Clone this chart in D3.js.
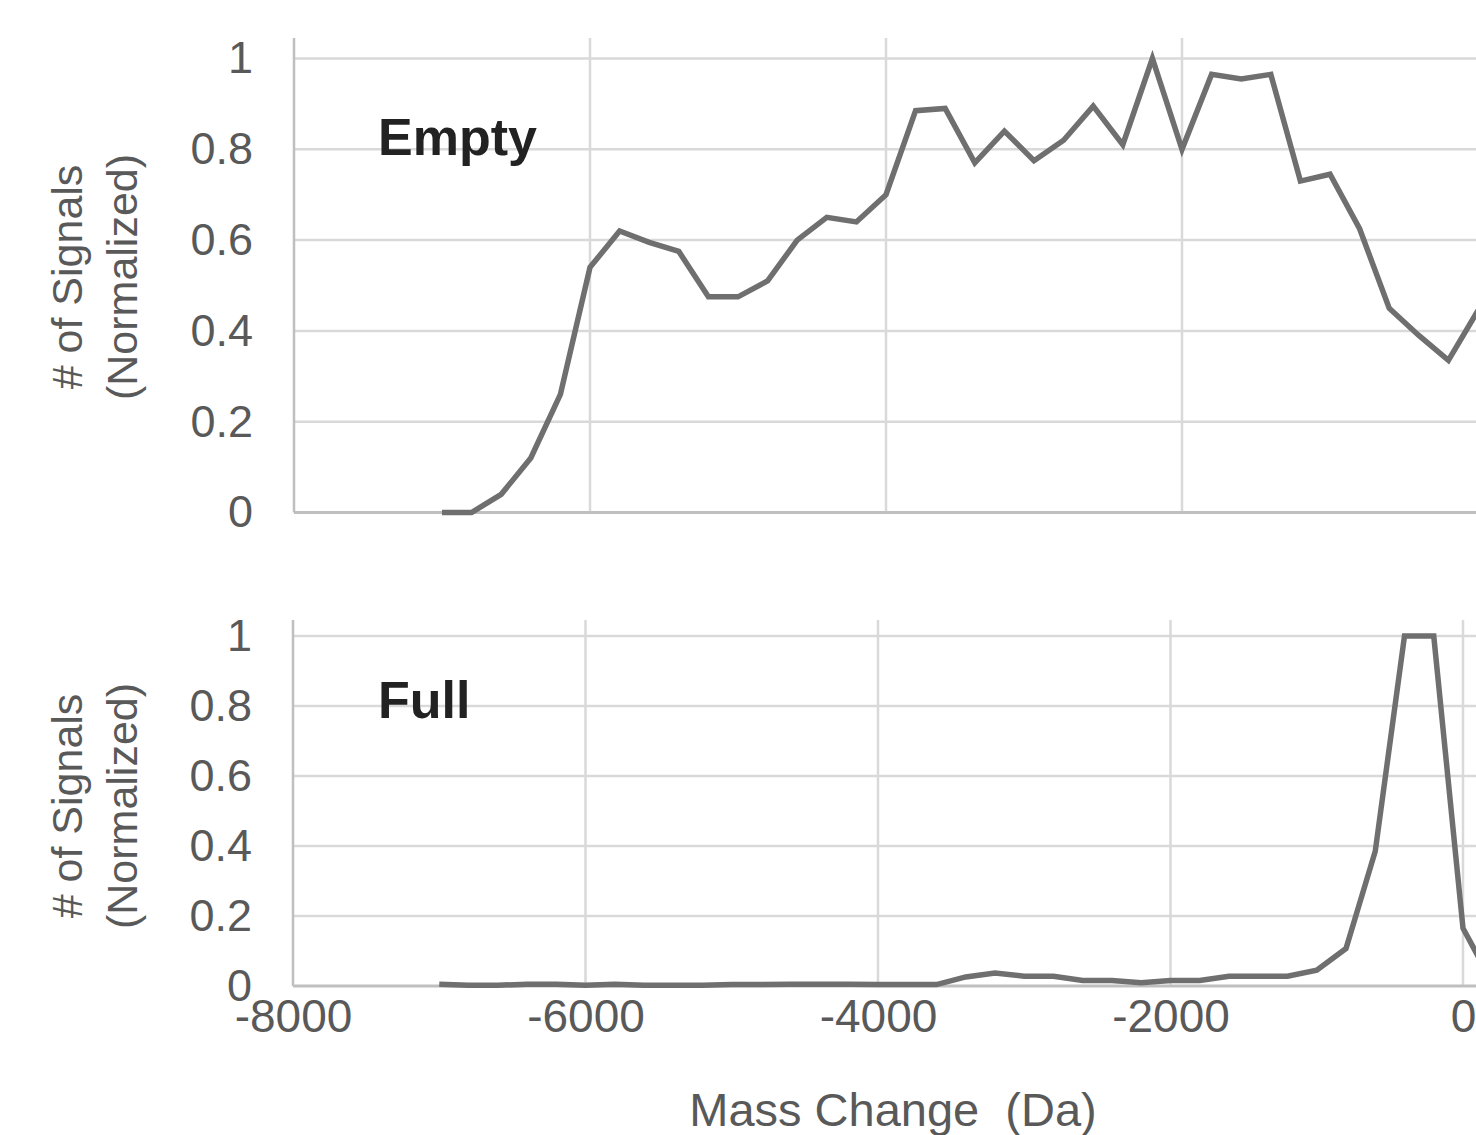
<!DOCTYPE html>
<html>
<head>
<meta charset="utf-8">
<script src="https://cdn.jsdelivr.net/npm/d3@7"></script>
<style>
  body { margin: 0; background: #fff; }
  text { font-family: "Liberation Sans", Arial, sans-serif; }
</style>
</head>
<body>
<div id="chart"></div>
<script>
// mass change bins (Da)
const massChange = [-7000, -6800, -6600, -6400, -6200, -6000, -5800, -5600, -5400, -5200,
  -5000, -4800, -4600, -4400, -4200, -4000, -3800, -3600, -3400, -3200,
  -3000, -2800, -2600, -2400, -2200, -2000, -1800, -1600, -1400, -1200,
  -1000, -800, -600, -400, -200, 0, 200];

// normalized signal counts
const emptySignal = [0, 0, 0.04, 0.12, 0.26, 0.54, 0.62, 0.595, 0.575, 0.475,
  0.475, 0.51, 0.6, 0.65, 0.64, 0.7, 0.885, 0.89, 0.77, 0.84,
  0.775, 0.82, 0.895, 0.81, 1.0, 0.8, 0.965, 0.955, 0.965, 0.73,
  0.745, 0.625, 0.45, 0.39, 0.335, 0.445];

const fullSignal = [0.005, 0.002, 0.002, 0.005, 0.005, 0.002, 0.005, 0.002, 0.002, 0.002,
  0.004, 0.004, 0.005, 0.005, 0.005, 0.004, 0.004, 0.004, 0.026, 0.037,
  0.028, 0.028, 0.016, 0.016, 0.009, 0.016, 0.016, 0.028, 0.028, 0.028,
  0.045, 0.107, 0.385, 1.0, 1.0, 0.165, 0.01];

const xTicks = [-8000, -6000, -4000, -2000, 0];
const yTicks = [0, 0.2, 0.4, 0.6, 0.8, 1];
const yTitle = ["# of Signals", "(Normalized)"];

let width = 1476;
let height = 1135;

const textColor = "#595959";
const gridColor = "#d9d9d9";
const axisColor = "#bfbfbf";
const lineColor = "#6f6f6f";

var svg = d3.select("#chart")
    .append("svg")
    .attr("width", width)
    .attr("height", height);

function panel(values, opts) {
    const x = d3.scaleLinear().domain([-8000, 0]).range([opts.left, opts.right]);
    const y = d3.scaleLinear().domain([0, 1]).range([opts.bottom, opts.top]);
    const g = svg.append("g");

    // horizontal grid
    g.selectAll(".hgrid")
        .data(yTicks.filter(d => d > 0))
        .join("line")
        .attr("x1", opts.left).attr("x2", width)
        .attr("y1", d => y(d)).attr("y2", d => y(d))
        .attr("stroke", gridColor)
        .attr("stroke-width", 2.5);

    // vertical grid
    g.selectAll(".vgrid")
        .data(xTicks.filter(d => d > -8000))
        .join("line")
        .attr("x1", d => x(d)).attr("x2", d => x(d))
        .attr("y1", opts.gridTop).attr("y2", opts.bottom)
        .attr("stroke", gridColor)
        .attr("stroke-width", 2.5);

    // axis lines
    g.append("line")
        .attr("x1", opts.left).attr("x2", opts.left)
        .attr("y1", opts.gridTop).attr("y2", opts.bottom)
        .attr("stroke", axisColor).attr("stroke-width", 2.5);
    g.append("line")
        .attr("x1", opts.left).attr("x2", width)
        .attr("y1", opts.bottom).attr("y2", opts.bottom)
        .attr("stroke", axisColor).attr("stroke-width", 3);

    // y tick labels
    const yAxis = d3.axisLeft(y)
        .tickValues(yTicks)
        .tickSize(0)
        .tickPadding(41)
        .tickFormat(d3.format("~g"));
    g.append("g")
        .attr("transform", `translate(${opts.left},0)`)
        .call(yAxis)
        .call(a => a.select(".domain").remove())
        .selectAll("text")
        .attr("fill", textColor)
        .attr("font-size", "45px");

    if (opts.xLabels) {
        const xAxis = d3.axisBottom(x)
            .tickValues(xTicks)
            .tickSize(0)
            .tickPadding(13)
            .tickFormat(d => String(d));
        g.append("g")
            .attr("transform", `translate(0,${opts.bottom})`)
            .call(xAxis)
            .call(a => a.select(".domain").remove())
            .selectAll("text")
            .attr("fill", textColor)
            .attr("font-size", "46px");
    }

    // y title, two lines
    g.selectAll(".ytitle")
        .data(yTitle)
        .join("text")
        .attr("transform", (d, i) => `translate(${i == 0 ? 82 : 137},${opts.titleY}) rotate(-90)`)
        .attr("text-anchor", "middle")
        .attr("fill", textColor)
        .attr("font-size", "43px")
        .text(d => d);

    let line = d3.line()
        .x(d => x(d[0]))
        .y(d => y(d[1]));

    const pts = values.map((v, i) => [massChange[i], v]);
    g.append("path")
        .datum(pts)
        .attr("d", line)
        .attr("fill", "none")
        .attr("stroke", lineColor)
        .attr("stroke-width", 5.5)
        .attr("stroke-linejoin", "miter");

    // panel label
    g.append("text")
        .attr("x", 378)
        .attr("y", opts.labelY)
        .attr("font-size", "52px")
        .attr("font-weight", "bold")
        .attr("fill", "#222")
        .text(opts.label);
}

panel(emptySignal, {left: 294, right: 1478, top: 58.5, bottom: 512.5, gridTop: 38,
    titleY: 277, labelY: 155, label: "Empty", xLabels: false});
panel(fullSignal, {left: 293, right: 1463, top: 636, bottom: 986, gridTop: 620,
    titleY: 806, labelY: 718, label: "Full", xLabels: true});

// x title
svg.append("text")
    .attr("x", 893)
    .attr("y", 1126)
    .attr("text-anchor", "middle")
    .attr("fill", textColor)
    .attr("font-size", "47px")
    .style("white-space", "pre")
    .text("Mass Change  (Da)");
</script>
</body>
</html>
